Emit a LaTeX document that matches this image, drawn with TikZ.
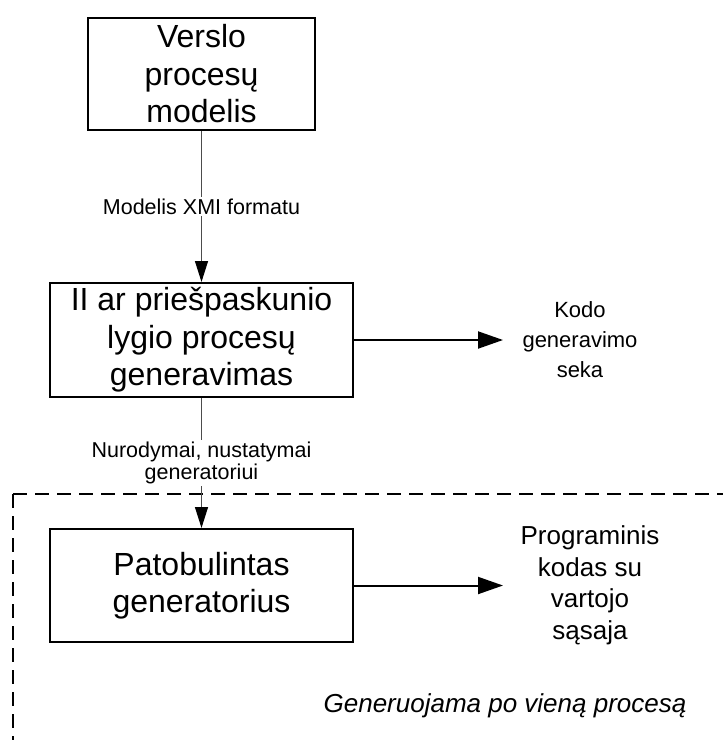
\documentclass[tikz,border=0pt]{standalone}
\usepackage{fontspec}
\setmainfont{Liberation Sans}
\usetikzlibrary{arrows.meta}
\begin{document}
\begin{tikzpicture}[x=1pt,y=-1pt,
  box/.style={draw,line width=2pt,inner sep=0pt,align=center,
    font=\fontsize{32}{37.5}\selectfont},
  conn/.style={draw=black!70,line width=1.2pt,
    -{Triangle[length=21pt,width=13pt,color=black]}},
  plainconn/.style={draw=black!70,line width=1.2pt},
  harrow/.style={draw,line width=2pt,-{Triangle[length=25pt,width=17pt]}},
  lbl/.style={fill=white,inner sep=2pt,align=center,
    font=\fontsize{21.5}{22}\selectfont},
  outtxt/.style={align=center,inner sep=0pt},
  frame/.style={line width=2pt,dash pattern=on 14pt off 8pt}]
\useasboundingbox (0,0) rectangle (723,740);

% dashed region
\coordinate (fc) at (13,494);
\coordinate (fr) at (723,494);
\coordinate (fb) at (13,740);
\draw[frame] (fc) -- (fr);
\draw[frame] (fc) -- (fb);

% boxes
\node[box,minimum width=227pt,minimum height=112pt] (b1) at (201.5,74)
  {Verslo\\procesų\\modelis};
\node[box,minimum width=303pt,minimum height=114pt] (b2) at (201.5,340)
  {II ar priešpaskunio\\lygio procesų\\generavimas};
\node[box,minimum width=303pt,minimum height=113pt] (b3) at (201.5,585.5)
  {Patobulintas\\generatorius};

% vertical connectors with labels
\draw[conn] (b1.south) -- node[lbl] (l1) {Modelis XMI formatu} (b2.north);
\draw[conn] (b2.south) -- node[lbl] (l2) {Nurodymai, nustatymai\\generatoriui} (b3.north);

% outputs
\node[outtxt,font=\fontsize{22}{30}\selectfont] (t1) at (580,340)
  {Kodo\\generavimo\\seka};
\node[outtxt,font=\fontsize{26}{31.5}\selectfont] (t2) at (590,585.5)
  {Programinis\\kodas su\\vartojo\\sąsaja};
\coordinate (a1) at (503,340);
\coordinate (a2) at (503,585.5);
\draw[harrow] (b2.east) -- (a1);
\draw[harrow] (b3.east) -- (a2);

% region caption
\node[inner sep=0pt,anchor=base,font=\fontsize{26}{30}\selectfont\itshape] (t3)
  at (505,712) {Generuojama po vieną procesą};
\end{tikzpicture}
\end{document}
